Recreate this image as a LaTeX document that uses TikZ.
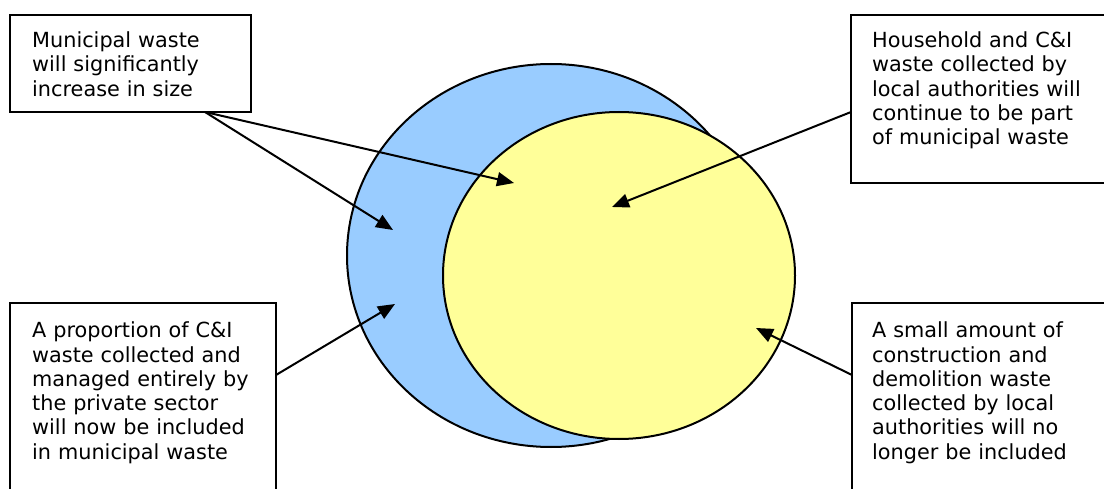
\documentclass[tikz,border=0pt]{standalone}
\usepackage{fontspec}
\setmainfont{DejaVu Sans}
\usetikzlibrary{arrows.meta, shapes.geometric}
\definecolor{paleblue}{HTML}{99CCFF}
\definecolor{paleyellow}{HTML}{FFFF99}

\begin{document}
\begin{tikzpicture}[x=1pt, y=-1pt,
  every node/.style={font=\fontsize{20.8}{24.3}\selectfont},
  blob/.style={draw, ellipse, inner sep=0pt, line width=2pt},
  box/.style={draw, anchor=north west, inner sep=0pt, outer sep=0pt, line width=2pt},
  boxtext/.style={anchor=base west, inner sep=0pt, text width=250pt, align=left},
  pointer/.style={-{Triangle[length=17pt, width=14pt]}, line width=2pt}]
  \useasboundingbox (0,0) rectangle (1104,489);
  \node[blob, fill=paleblue, minimum width=408pt, minimum height=383pt] (newmw) at (551,255.5) {};
  \node[blob, fill=paleyellow, minimum width=352pt, minimum height=327pt] (oldmw) at (619,275.5) {};
  \node[box, minimum width=241pt, minimum height=97pt] (muni) at (10,15) {};
  \node[box, minimum width=259pt, minimum height=168pt] (house) at (851,15) {};
  \node[box, minimum width=266pt, minimum height=200pt] (prop) at (10,303) {};
  \node[box, minimum width=260pt, minimum height=200pt] (small) at (852,303) {};
  \node[boxtext] (munitxt) at (32,47.5) {Municipal waste\\will significantly\\increase in size};
  \node[boxtext] (housetxt) at (872,47.5) {Household and C\&I\\waste collected by\\local authorities will\\continue to be part\\of municipal waste};
  \node[boxtext] (proptxt) at (32,337.8) {A proportion of C\&I\\waste collected and\\managed entirely by\\the private sector\\will now be included\\in municipal waste};
  \node[boxtext] (smalltxt) at (872,337.8) {A small amount of\\construction and\\demolition waste\\collected by local\\authorities will no\\longer be included};
  \coordinate (tipA) at (393,230);
  \coordinate (tipB) at (514,183);
  \coordinate (tipC) at (612,207);
  \coordinate (tipD) at (395,304);
  \coordinate (tipE) at (756,328);
  \draw[pointer] ([xshift=195pt]muni.south west) -- (tipA);
  \draw[pointer] ([xshift=195pt]muni.south west) -- (tipB);
  \draw[pointer] ([yshift=-97pt]house.north west) -- (tipC);
  \draw[pointer] ([yshift=-72pt]prop.north east) -- (tipD);
  \draw[pointer] ([yshift=-72pt]small.north west) -- (tipE);
\end{tikzpicture}
\end{document}
